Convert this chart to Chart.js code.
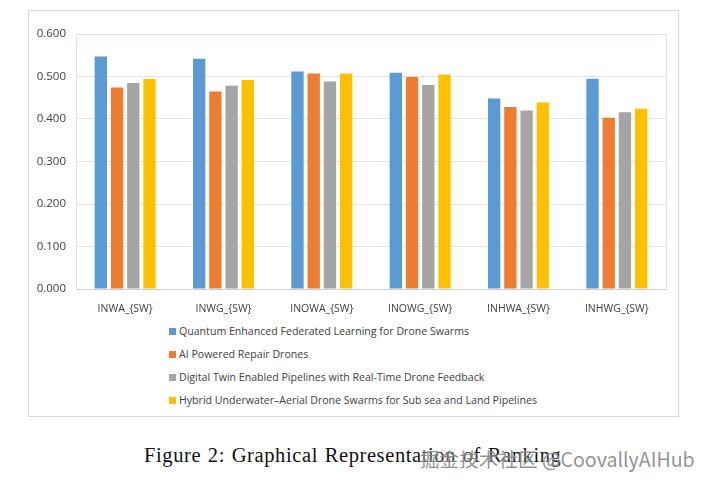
<!DOCTYPE html>
<html>
<head>
<meta charset="utf-8">
<script src="https://cdn.jsdelivr.net/npm/chart.js@4"></script>
<style>
  body { margin: 0; background: #fff; width: 710px; height: 486px; position: relative; overflow: hidden; }
  #box { position: absolute; left: 28px; top: 10px; width: 651px; height: 407px; border: 1px solid #d9d9d9; box-sizing: border-box; }
  #wrap { position: absolute; left: 0; top: 0; width: 651px; height: 305px; }
  #legend { position: absolute; left: 140px; top: 309px; font-family: "Open Sans", "Liberation Sans", sans-serif; font-size: 10.6px; color: #404040; }
  #legend div { height: 23px; line-height: 23px; white-space: nowrap; }
  #legend span.sw { display: inline-block; width: 7px; height: 7px; margin-right: 3px; vertical-align: 0px; }
  #caption { position: absolute; left: 144px; top: 444px; font-family: "Liberation Serif", "DejaVu Serif", serif; font-size: 20.5px; letter-spacing: 0.6px; word-spacing: 1px; color: #111; white-space: nowrap; }
  #mark { position: absolute; left: 420px; top: 444px; font-family: "Noto Sans CJK SC", sans-serif; font-size: 19.6px; color: rgba(110,110,110,0.75); white-space: nowrap; text-shadow: 0 0 2px rgba(255,255,255,0.8); }
</style>
</head>
<body>
<div id="box">
  <div id="wrap"><canvas id="myChart"></canvas></div>
  <div id="legend"></div>
</div>
<div id="caption">Figure 2: Graphical Representation of Ranking</div>
<div id="mark">掘金技术社区 @CoovallyAIHub</div>
<script>
// categories and series
const categories = ['INWA_{SW}', 'INWG_{SW}', 'INOWA_{SW}', 'INOWG_{SW}', 'INHWA_{SW}', 'INHWG_{SW}'];
const seriesNames = [
  'Quantum Enhanced Federated Learning for Drone Swarms',
  'AI Powered Repair Drones',
  'Digital Twin Enabled Pipelines with Real-Time Drone Feedback',
  'Hybrid Underwater\u2013Aerial Drone Swarms for Sub sea and Land Pipelines'
];
const quantumFL   = [0.547, 0.542, 0.512, 0.509, 0.448, 0.495];
const aiRepair    = [0.474, 0.465, 0.507, 0.499, 0.428, 0.403];
const digitalTwin = [0.485, 0.478, 0.488, 0.480, 0.420, 0.416];
const hybridSwarm = [0.494, 0.492, 0.507, 0.505, 0.439, 0.424];
const yTicks = [0, 0.1, 0.2, 0.3, 0.4, 0.5, 0.6];

const colors = ['#5B9BD5', '#ED7D31', '#A5A5A5', '#FFC000'];
const values = [quantumFL, aiRepair, digitalTwin, hybridSwarm];

// legend in html (one per line, like the picture)
const legendEl = document.getElementById('legend');
seriesNames.forEach((name, i) => {
  const row = document.createElement('div');
  row.innerHTML = `<span class="sw" style="background:${colors[i]}"></span>${name}`;
  legendEl.appendChild(row);
});

// thin frame round the plot area
const plotFrame = {
  id: 'plotFrame',
  afterDraw(chart) {
    const a = chart.chartArea;
    const c = chart.ctx;
    c.save();
    c.strokeStyle = '#d6e4f2';
    c.lineWidth = 1;
    c.strokeRect(a.left + 0.5, a.top + 0.5, a.right - a.left, a.bottom - a.top);
    c.strokeStyle = '#d0d0d0';
    c.beginPath();
    c.moveTo(a.left, a.bottom + 0.5);
    c.lineTo(a.right, a.bottom + 0.5);
    c.stroke();
    c.restore();
  }
};

const ctx = document.getElementById('myChart').getContext('2d');
const chart = new Chart(ctx, {
  type: 'bar',
  data: {
    labels: categories,
    datasets: seriesNames.map((name, i) => ({
      label: name,
      data: values[i],
      backgroundColor: colors[i],
      borderWidth: 0,
      barPercentage: 0.76,
      categoryPercentage: 0.66
    }))
  },
  options: {
    responsive: true,
    maintainAspectRatio: false,
    animation: false,
    layout: { padding: { top: 23, right: 14, left: 0, bottom: 0 } },
    plugins: {
      legend: { display: false },
      tooltip: { enabled: false }
    },
    scales: {
      x: {
        grid: { display: false },
        border: { display: false },
        ticks: {
          color: '#404040',
          padding: 6,
          font: { family: '"Open Sans", "Liberation Sans", sans-serif', size: 10.5 }
        },
        afterFit: axis => { axis.height = 27; }
      },
      y: {
        min: 0,
        max: 0.6,
        afterBuildTicks: axis => { axis.ticks = yTicks.map(v => ({ value: v })); },
        grid: { color: '#e4e4e4', drawTicks: false },
        border: { display: false },
        ticks: {
          color: '#404040',
          padding: 10,
          font: { family: '"Open Sans", "Liberation Sans", sans-serif', size: 11.5 },
          callback: v => v.toFixed(3)
        },
        afterFit: axis => { axis.width = 47; }
      }
    }
  },
  plugins: [plotFrame]
});
</script>
</body>
</html>
